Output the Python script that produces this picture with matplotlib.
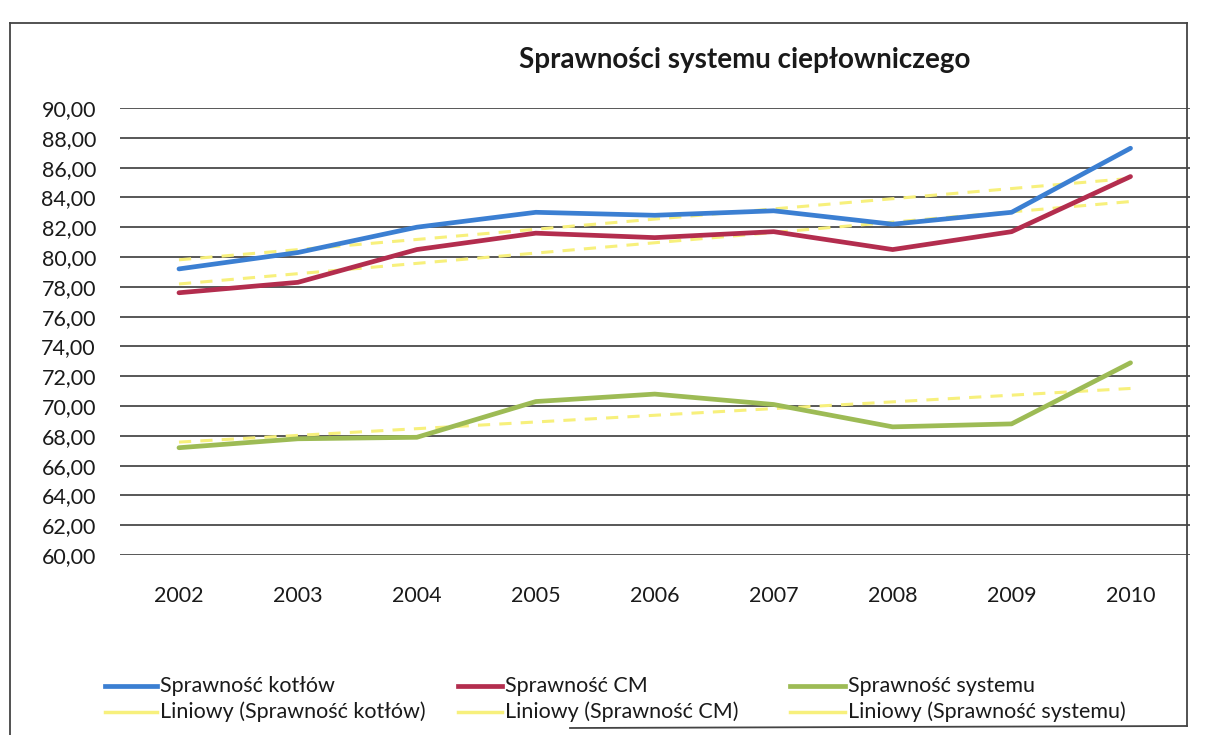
import numpy as np
import matplotlib
matplotlib.use("Agg")
import matplotlib.pyplot as plt
from matplotlib.lines import Line2D
from matplotlib.ticker import FixedLocator, FuncFormatter

plt.rcParams['font.family'] = ['Lato', 'DejaVu Sans']

# Data
years = [2002, 2003, 2004, 2005, 2006, 2007, 2008, 2009, 2010]
sprawnosc_kotlow = [79.2, 80.3, 82.0, 83.0, 82.8, 83.1, 82.2, 83.0, 87.3]
sprawnosc_cm = [77.6, 78.3, 80.5, 81.6, 81.3, 81.7, 80.5, 81.7, 85.4]
sprawnosc_systemu = [67.2, 67.8, 67.9, 70.3, 70.8, 70.1, 68.6, 68.8, 72.9]
y_ticks = [60, 62, 64, 66, 68, 70, 72, 74, 76, 78, 80, 82, 84, 86, 88, 90]

series_names = ["Sprawność kotłów", "Sprawność CM", "Sprawność systemu"]
series_values = [sprawnosc_kotlow, sprawnosc_cm, sprawnosc_systemu]
series_colors = ["#3b7fd2", "#b32d4e", "#9dbb55"]
trend_color = "#f7f07c"
text_color = "#1a1a1a"

fig = plt.figure(figsize=(12.15, 7.35), dpi=100)
W, H = 1215, 735


def fx(px):
    return px / W


def fy(py):
    return 1 - py / H


ax = fig.add_axes([fx(119.5), fy(555), (1190 - 119.5) / W, (555 - 108) / H])

x = np.arange(len(years))

# linear trend of each series
for vals in series_values:
    a, b = np.polyfit(x, vals, 1)
    ax.plot(x, a * x + b, color=trend_color, lw=2.2, ls=(0, (4, 3)), zorder=2)

for vals, c in zip(series_values, series_colors):
    ax.plot(x, vals, color=c, lw=3.4, solid_capstyle='round', zorder=3)

ax.set_xlim(-0.5, len(years) - 0.5)
ax.set_ylim(60, 90)
ax.yaxis.set_major_locator(FixedLocator(y_ticks))
ax.yaxis.set_major_formatter(FuncFormatter(lambda v, p: f"{v:.2f}".replace('.', ',')))
ax.set_xticks(x)
ax.set_xticklabels([str(y) for y in years])
ax.grid(axis='y', color='#4a4a4a', lw=1.3)
ax.set_axisbelow(True)
for s in ax.spines.values():
    s.set_visible(False)
ax.tick_params(axis='y', length=0, pad=17, labelsize=15.5, colors=text_color)
ax.tick_params(axis='x', length=0, pad=22, labelsize=15.5, colors=text_color)

# title
fig.text(fx(745), fy(60), "Sprawności systemu ciepłowniczego",
         ha='center', va='center', fontsize=20, fontweight='bold', color=text_color)

# legend: three columns, series on the first row, trend lines on the second
col_handle_x = [(105, 157), (458, 502), (790, 845)]
row_y = [686, 712]
for (h0, h1), name, c in zip(col_handle_x, series_names, series_colors):
    fig.add_artist(Line2D([fx(h0), fx(h1)], [fy(row_y[0])] * 2, color=c, lw=3.4,
                          transform=fig.transFigure))
    fig.text(fx(h1 + 3), fy(row_y[0]), name, ha='left', va='center',
             fontsize=15.5, color=text_color)
    fig.add_artist(Line2D([fx(h0), fx(h1)], [fy(row_y[1])] * 2, color=trend_color, lw=2.5,
                          transform=fig.transFigure))
    fig.text(fx(h1 + 3), fy(row_y[1]), f"Liniowy ({name})", ha='left', va='center',
             fontsize=15.5, color=text_color)

# chart border
border = dict(color='#444444', lw=1.3, transform=fig.transFigure)
fig.add_artist(Line2D([fx(10), fx(1187)], [fy(23), fy(23)], **border))
fig.add_artist(Line2D([fx(10), fx(10)], [fy(23), 0], **border))
fig.add_artist(Line2D([fx(1187), fx(1187)], [fy(23), fy(726)], **border))
fig.add_artist(Line2D([fx(570), fx(1187)], [fy(728), fy(726)], **border))

fig.savefig("out.png", dpi=100, facecolor='white')
